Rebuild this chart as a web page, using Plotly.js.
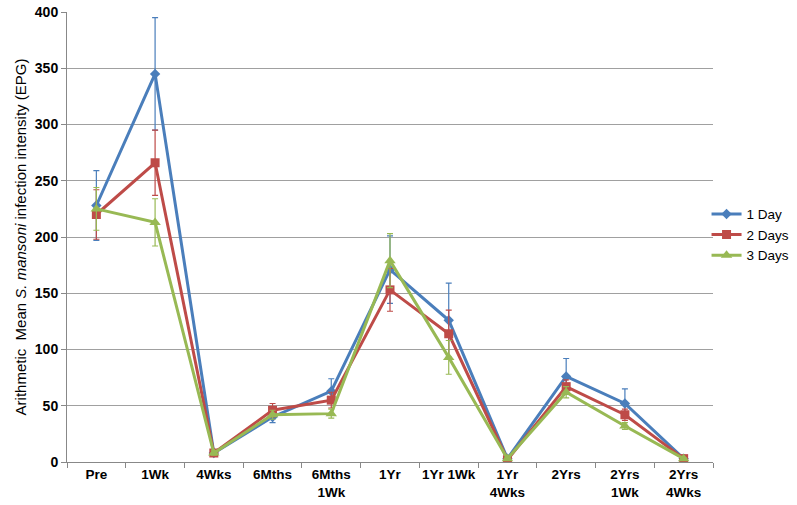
<!DOCTYPE html>
<html>
<head>
<meta charset="utf-8">
<script src="https://cdn.plot.ly/plotly-3.0.1.min.js"></script>
<style>body{margin:0;background:#fff;} #chart{width:797px;height:505px;}</style>
</head>
<body>
<div id="chart"></div>
<script>
let timepoints = ["Pre", "1Wk", "4Wks", "6Mths", "6Mths<br>1Wk", "1Yr", "1Yr 1Wk", "1Yr<br>4Wks", "2Yrs", "2Yrs<br>1Wk", "2Yrs<br>4Wks"];

let day1 = [228, 345, 8, 40, 63, 171, 126, 3, 76, 52, 3];
let day1err = [31, 50, 2, 5, 11, 30, 33, 1, 16, 13, 1];

let day2 = [220, 266, 8, 46, 55, 153, 114, 2, 67, 42, 3];
let day2err = [22, 29, 2, 6, 7, 19, 21, 1, 6, 5, 1];

let day3 = [225, 213, 8, 42, 43, 179, 93, 3, 62, 32, 3];
let day3err = [19, 21, 2, 4, 4, 24, 15, 1, 5, 3, 1];

function mkTrace(name, vals, errs, color, symbol, size) {
  return {
    x: timepoints, y: vals, name: name, type: "scatter", mode: "lines+markers",
    line: {color: color, width: 3},
    marker: {color: color, symbol: symbol, size: size},
    error_y: {type: "data", array: errs, visible: true, color: color, thickness: 1.2, width: 3}
  };
}

let data = [
  mkTrace("1 Day", day1, day1err, "#4A7EBB", "diamond", 8),
  mkTrace("2 Days", day2, day2err, "#BE4B48", "square", 9),
  mkTrace("3 Days", day3, day3err, "#98B954", "triangle-up", 10)
];

var layout = {
  width: 797, height: 505,
  margin: {l: 67, r: 84, t: 12, b: 43, autoexpand: false},
  paper_bgcolor: "#fff", plot_bgcolor: "#fff",
  font: {family: "Liberation Sans, Arial, sans-serif", color: "#000"},
  showlegend: true,
  legend: {x: 0.99, y: 0.505, xanchor: "left", yanchor: "middle", font: {size: 13.5},
    tracegroupgap: 0, itemwidth: 30, bgcolor: "rgba(0,0,0,0)"},
  xaxis: {
    type: "category", showgrid: false, showline: true, linecolor: "#888", linewidth: 1,
    ticks: "outside", tickson: "boundaries", ticklen: 5, tickcolor: "#888",
    tickangle: 0,
    tickfont: {size: 13.5, weight: "bold"},
    range: [-0.5, 10.5]
  },
  yaxis: {
    range: [0, 400], dtick: 50, showgrid: true, gridcolor: "#a0a0a0", gridwidth: 1,
    showline: true, linecolor: "#888", ticks: "outside", ticklen: 5, tickcolor: "#888",
    zeroline: false,
    tickfont: {size: 14, weight: "bold"},
    title: {text: "Arithmetic  Mean <i>S. mansoni</i> infection intensity (EPG)", font: {size: 15}, standoff: 4}
  }
};

Plotly.newPlot("chart", data, layout, {displayModeBar: false});
</script>
</body>
</html>
